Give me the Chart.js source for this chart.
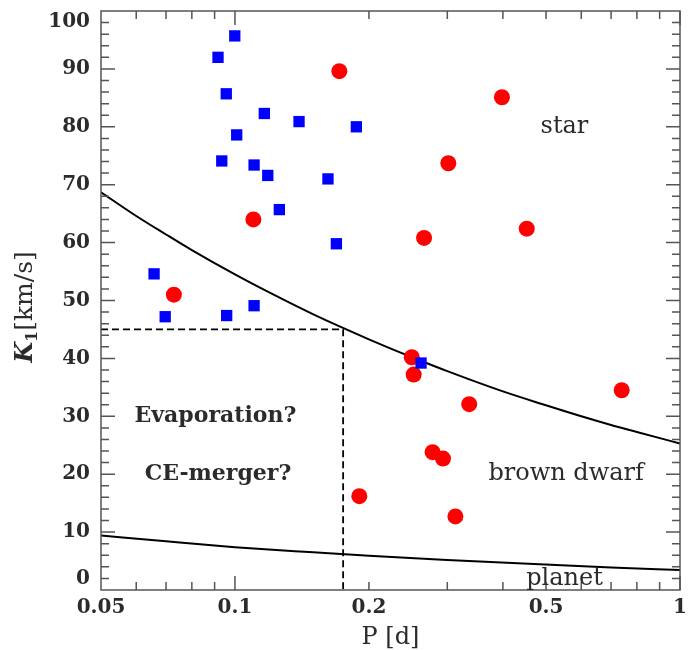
<!DOCTYPE html>
<html>
<head>
<meta charset="utf-8">
<script src="https://cdn.jsdelivr.net/npm/chart.js@4.4.1/dist/chart.umd.min.js"></script>
<style>
  html, body { margin: 0; padding: 0; background: #fff; }
  #wrap { width: 692px; height: 650px; }
</style>
</head>
<body>
<div id="wrap"><canvas id="kpChart" width="692" height="650"></canvas></div>
<script>
// orbital period P [d] and semi-amplitude K1 [km/s]
const blueP = [0.0999, 0.0916, 0.0956, 0.1164, 0.1393, 0.1009, 0.0934, 0.1104, 0.1185,
               0.1618, 0.1258, 0.169, 0.0658, 0.0697, 0.0958, 0.1104, 0.1874, 0.2619];
const blueK = [95.7, 92.0, 85.7, 82.3, 80.9, 78.6, 74.1, 73.4, 71.6,
               71.0, 65.7, 59.8, 54.6, 47.2, 47.4, 49.1, 80.0, 39.2];

const redP = [0.1716, 0.398, 0.3016, 0.266, 0.4525, 0.110, 0.0729, 0.2496,
              0.2521, 0.336, 0.7396, 0.278, 0.2934, 0.1903, 0.3128];
const redK = [89.6, 85.1, 73.7, 60.8, 62.4, 64.0, 51.0, 40.2,
              37.2, 32.1, 34.5, 23.8, 22.7, 16.2, 12.7];

// star / brown dwarf boundary
const starLineP = [0.05, 0.06, 0.07, 0.08, 0.1, 0.12, 0.15, 0.2, 0.25, 0.3, 0.4, 0.5, 0.6, 0.7, 0.8, 1];
const starLineK = [68.7, 64.6, 61.4, 58.7, 54.5, 51.3, 47.6, 43.3, 40.2, 37.8, 34.3, 31.9, 30.0, 28.5, 27.3, 25.3];

// brown dwarf / planet boundary
const planetLineP = [0.05, 0.07, 0.1, 0.15, 0.2, 0.3, 0.5, 0.7, 1];
const planetLineK = [9.4, 8.4, 7.4, 6.5, 5.9, 5.2, 4.4, 3.9, 3.45];

// dashed box around the empty region
const boxP = [0.05, 0.175, 0.175];
const boxK = [45, 45, 0];

const xTickLabels = [0.05, 0.1, 0.2, 0.5, 1];
const yTickLabels = [0, 10, 20, 30, 40, 50, 60, 70, 80, 90, 100];

const textColor = '#2b2b2b';
const axisColor = '#555';
const serif = '"DejaVu Serif", serif';

function pairs(xs, ys) {
  return xs.map((v, i) => ({ x: v, y: ys[i] }));
}

// frame, inward ticks, region labels and the y title
const decorations = {
  id: 'decorations',
  afterDraw(chart) {
    const { ctx, chartArea: a } = chart;
    const x = chart.scales.x, y = chart.scales.y;
    ctx.save();

    ctx.strokeStyle = axisColor;
    ctx.lineWidth = 1.5;
    ctx.strokeRect(a.left, a.top, a.right - a.left, a.bottom - a.top);

    ctx.beginPath();
    for (let d = 0.01; d < 1; d *= 10) {
      for (let m = 1; m <= 10; m++) {
        const v = +(d * m).toPrecision(3);
        if (v <= 0.05 || v > 1) continue;
        const px = x.getPixelForValue(v);
        const len = m === 1 || m === 10 ? 14 : 8;
        ctx.moveTo(px, a.bottom); ctx.lineTo(px, a.bottom - len);
        ctx.moveTo(px, a.top); ctx.lineTo(px, a.top + len);
      }
    }
    for (let v = 2; v < 100; v += 2) {
      const py = y.getPixelForValue(v);
      const len = v % 10 === 0 ? 14 : 8;
      ctx.moveTo(a.left, py); ctx.lineTo(a.left + len, py);
      ctx.moveTo(a.right, py); ctx.lineTo(a.right - len, py);
    }
    ctx.stroke();

    ctx.fillStyle = textColor;
    ctx.textAlign = 'center';
    ctx.textBaseline = 'middle';
    const put = (txt, p, k, font) => {
      ctx.font = font;
      ctx.fillText(txt, x.getPixelForValue(p), y.getPixelForValue(k));
    };
    put('star', 0.55, 80, '24px ' + serif);
    put('brown dwarf', 0.555, 20, '24px ' + serif);
    put('planet', 0.55, 1.9, '24px ' + serif);
    put('Evaporation?', 0.0904, 30, 'bold 22px ' + serif);
    put('CE-merger?', 0.0916, 20, 'bold 22px ' + serif);

    // K1[km/s], rotated
    const parts = [
      { t: 'K', f: 'italic bold 24px ' + serif, dy: 0 },
      { t: '1', f: 'bold 16px ' + serif, dy: 5 },
      { t: '[km/s]', f: '25px ' + serif, dy: 0 }
    ];
    let total = 0;
    parts.forEach(p => { ctx.font = p.f; p.w = ctx.measureText(p.t).width; total += p.w; });
    ctx.translate(24, 307);
    ctx.rotate(-Math.PI / 2);
    ctx.textAlign = 'left';
    ctx.textBaseline = 'alphabetic';
    let cx = -total / 2;
    parts.forEach(p => {
      ctx.font = p.f;
      ctx.fillText(p.t, cx, 8 + p.dy);
      cx += p.w;
    });
    ctx.restore();
  }
};

new Chart(document.getElementById('kpChart'), {
  type: 'scatter',
  data: {
    datasets: [
      {
        data: pairs(blueP, blueK),
        pointStyle: 'rect',
        pointRadius: 8,
        backgroundColor: '#0000ff',
        borderWidth: 0
      },
      {
        data: pairs(redP, redK),
        pointStyle: 'circle',
        pointRadius: 8,
        backgroundColor: '#ff0000',
        borderWidth: 0
      },
      {
        data: pairs(starLineP, starLineK),
        showLine: true,
        pointRadius: 0,
        borderColor: '#000',
        borderWidth: 2,
        cubicInterpolationMode: 'monotone'
      },
      {
        data: pairs(planetLineP, planetLineK),
        showLine: true,
        pointRadius: 0,
        borderColor: '#000',
        borderWidth: 2,
        cubicInterpolationMode: 'monotone'
      },
      {
        data: pairs(boxP, boxK),
        showLine: true,
        pointRadius: 0,
        borderColor: '#000',
        borderWidth: 1.8,
        borderDash: [7, 4]
      }
    ]
  },
  options: {
    responsive: false,
    animation: false,
    layout: { padding: { top: 11, right: 12, left: 0, bottom: 0 } },
    plugins: { legend: { display: false }, tooltip: { enabled: false } },
    scales: {
      x: {
        type: 'logarithmic',
        min: 0.05,
        max: 1,
        grid: { display: false, drawTicks: false },
        border: { display: false },
        afterBuildTicks: s => { s.ticks = xTickLabels.map(v => ({ value: v })); },
        afterFit: s => { s.height = 60; s.paddingLeft = 0; s.paddingRight = 0; },
        ticks: {
          autoSkip: false,
          maxRotation: 0,
          padding: 6,
          color: textColor,
          font: { family: serif, size: 20, weight: 'bold', lineHeight: 1.2 },
          callback: v => String(v)
        },
        title: {
          display: true,
          text: 'P [d]',
          color: textColor,
          font: { family: serif, size: 24, lineHeight: 1.0 },
          padding: { top: 0, bottom: 0 }
        }
      },
      y: {
        min: 0,
        max: 100,
        grid: { display: false, drawTicks: false },
        border: { display: false },
        afterBuildTicks: s => { s.ticks = yTickLabels.map(v => ({ value: v })); },
        afterFit: s => { s.width = 101; s.paddingTop = 0; s.paddingBottom = 0; },
        ticks: {
          padding: 11,
          color: textColor,
          font: { family: serif, size: 20, weight: 'bold', lineHeight: 1.1 },
          // keep the end labels inside the frame
          callback: v => v === 100 ? ['', '100'] : v === 0 ? ['0', ''] : String(v)
        }
      }
    }
  },
  plugins: [decorations]
});
</script>
</body>
</html>
